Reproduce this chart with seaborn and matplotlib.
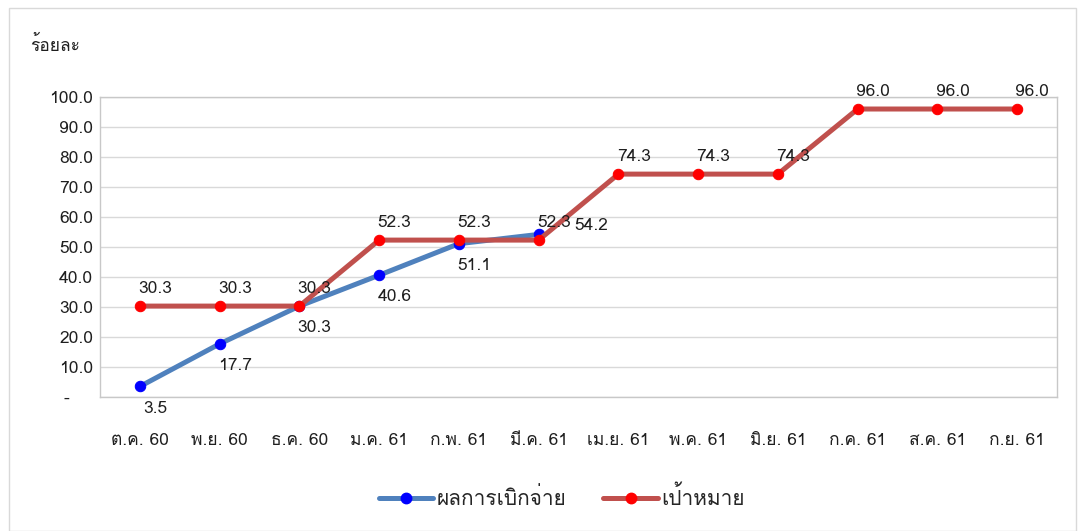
import matplotlib
matplotlib.use("Agg")
import matplotlib.pyplot as plt
from matplotlib import font_manager
from matplotlib.ft2font import FT2Font
from matplotlib.lines import Line2D
from matplotlib.patches import Rectangle
import pandas as pd
import seaborn as sns

months = ["ต.ค. 60", "พ.ย. 60", "ธ.ค. 60", "ม.ค. 61", "ก.พ. 61", "มี.ค. 61",
          "เม.ย. 61", "พ.ค. 61", "มิ.ย. 61", "ก.ค. 61", "ส.ค. 61", "ก.ย. 61"]
actual = [3.5, 17.7, 30.3, 40.6, 51.1, 54.2]
target = [30.3, 30.3, 30.3, 52.3, 52.3, 52.3, 74.3, 74.3, 74.3, 96.0, 96.0, 96.0]
yticks = [0, 10, 20, 30, 40, 50, 60, 70, 80, 90, 100]
series_names = ["ผลการเบิกจ่าย", "เป้าหมาย"]
y_title = "ร้อยละ"


def thai_family():
    # find any installed font that actually has Thai glyphs
    for f in font_manager.fontManager.ttflist:
        try:
            cmap = FT2Font(f.fname).get_charmap()
        except Exception:
            continue
        if 0x0E23 in cmap and 0x0E1C in cmap:
            return f.name
    return None


sns.set_theme(style="white")
fam = thai_family()
plt.rcParams["font.family"] = ([fam] if fam else []) + ["DejaVu Sans"]

df_actual = pd.DataFrame({"month": months[:len(actual)], "value": actual})
df_target = pd.DataFrame({"month": months, "value": target})

fig = plt.figure(figsize=(10.8, 5.31), dpi=100)
ax = fig.add_axes([0.0926, 0.2524, 0.8861, 0.5649])

blue_line, blue_dot = "#4F81BD", "#0000FF"
red_line, red_dot = "#C0504D", "#FF0000"
lw, ms = 3.6, 7.5
txt = "#1F1F1F"

sns.lineplot(data=df_actual, x="month", y="value", ax=ax, color=blue_line,
             linewidth=lw, marker="o", markersize=ms,
             markerfacecolor=blue_dot, markeredgecolor=blue_dot)
sns.lineplot(data=df_target, x="month", y="value", ax=ax, color=red_line,
             linewidth=lw, marker="o", markersize=ms,
             markerfacecolor=red_dot, markeredgecolor=red_dot)

# data labels
for i, v in enumerate(actual):
    if i == len(actual) - 1:
        off = (38, 6)
    else:
        off = (11, -16)
    ax.annotate(f"{v:.1f}", (i, v), xytext=off, textcoords="offset points",
                ha="center", va="center", fontsize=12.5, color=txt)
for i, v in enumerate(target):
    ax.annotate(f"{v:.1f}", (i, v), xytext=(11, 12), textcoords="offset points",
                ha="center", va="center", fontsize=12.5, color=txt)

ax.set_xlim(-0.5, len(months) - 0.5)
ax.set_ylim(0, 100)
ax.set_yticks(yticks)
ax.set_yticklabels(["-    " if t == 0 else f"{t:.1f}" for t in yticks])
ax.set_xlabel("")
ax.set_ylabel("")
ax.grid(axis="y", color="#D9D9D9", linewidth=1)
ax.tick_params(axis="both", length=0, labelsize=12.5, colors=txt)
ax.tick_params(axis="x", pad=26)
ax.tick_params(axis="y", pad=5)
for s in ax.spines.values():
    s.set_color("#C8C8C8")
    s.set_linewidth(1)
    s.set_visible(True)

fig.text(0.028, 0.915, y_title, fontsize=12.5, color=txt,
         ha="left", va="center")

handles = [
    Line2D([], [], color=blue_line, linewidth=lw, marker="o", markersize=ms,
           markerfacecolor=blue_dot, markeredgecolor=blue_dot),
    Line2D([], [], color=red_line, linewidth=lw, marker="o", markersize=ms,
           markerfacecolor=red_dot, markeredgecolor=red_dot),
]
fig.legend(handles, series_names, loc="center", bbox_to_anchor=(0.52, 0.063),
           ncol=2, frameon=False, fontsize=15, handlelength=2.6,
           handletextpad=0.15, columnspacing=1.8)

# outer chart frame
fig.patches.append(Rectangle((0.008, 0.0), 0.988, 0.985, transform=fig.transFigure,
                             fill=False, edgecolor="#D9D9D9", linewidth=1))

fig.savefig("out.png", dpi=100)
